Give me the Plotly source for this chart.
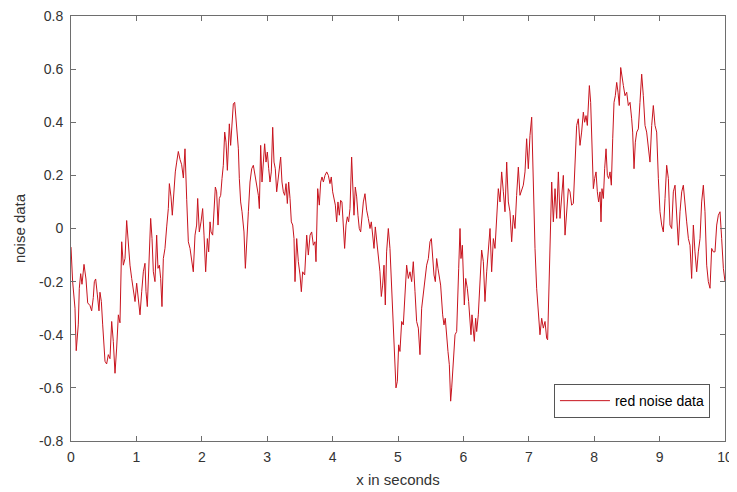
import plotly.graph_objects as go

x_seconds = [
    0.000, 0.025, 0.061, 0.080, 0.112, 0.127, 0.148, 0.168, 0.199, 0.229, 0.255, 0.290, 0.316, 0.341, 0.357,
    0.377, 0.403, 0.428, 0.443, 0.464, 0.484, 0.520, 0.545, 0.571, 0.596, 0.622, 0.647, 0.673, 0.698, 0.724,
    0.749, 0.775, 0.800, 0.826, 0.851, 0.877, 0.902, 0.928, 0.953, 0.979, 1.004, 1.030, 1.055, 1.081, 1.106,
    1.131, 1.147, 1.167, 1.198, 1.218, 1.239, 1.259, 1.284, 1.310, 1.330, 1.351, 1.371, 1.391, 1.412, 1.437,
    1.463, 1.488, 1.504, 1.529, 1.549, 1.575, 1.595, 1.616, 1.641, 1.667, 1.692, 1.718, 1.743, 1.769, 1.794,
    1.820, 1.845, 1.870, 1.896, 1.921, 1.937, 1.962, 1.988, 2.013, 2.034, 2.059, 2.085, 2.105, 2.126, 2.141,
    2.166, 2.187, 2.207, 2.227, 2.248, 2.268, 2.289, 2.309, 2.329, 2.350, 2.370, 2.391, 2.406, 2.421, 2.441,
    2.462, 2.482, 2.503, 2.523, 2.538, 2.559, 2.574, 2.594, 2.615, 2.625, 2.645, 2.666, 2.686, 2.712, 2.737,
    2.763, 2.788, 2.814, 2.839, 2.865, 2.880, 2.900, 2.921, 2.941, 2.961, 2.982, 3.002, 3.023, 3.043, 3.063,
    3.084, 3.104, 3.124, 3.145, 3.165, 3.186, 3.206, 3.226, 3.247, 3.267, 3.288, 3.308, 3.328, 3.349, 3.369,
    3.390, 3.410, 3.425, 3.451, 3.476, 3.502, 3.522, 3.542, 3.573, 3.604, 3.629, 3.655, 3.680, 3.706, 3.731,
    3.746, 3.772, 3.797, 3.818, 3.838, 3.859, 3.884, 3.910, 3.935,
    3.960, 3.980, 4.001, 4.021, 4.042, 4.062, 4.082, 4.103, 4.123, 4.143, 4.164, 4.184, 4.205, 4.225, 4.245,
    4.266, 4.291, 4.306, 4.327, 4.347, 4.368, 4.388, 4.408, 4.429, 4.449, 4.470, 4.495, 4.521, 4.546, 4.572,
    4.592, 4.612, 4.633, 4.653, 4.674, 4.699, 4.724, 4.745, 4.765, 4.786, 4.806, 4.826, 4.852, 4.877, 4.903,
    4.928, 4.954, 4.969, 4.990, 5.010, 5.030, 5.056, 5.081, 5.107, 5.132, 5.158, 5.183, 5.209, 5.234, 5.260,
    5.285, 5.311, 5.336, 5.362, 5.387, 5.413, 5.438, 5.464, 5.489, 5.510, 5.530, 5.550, 5.571, 5.591, 5.611,
    5.632, 5.652, 5.683, 5.703, 5.723, 5.744, 5.764, 5.785, 5.805,
    5.821, 5.846, 5.872, 5.897, 5.907, 5.928, 5.948, 5.963, 5.984, 5.999, 6.014, 6.035, 6.060, 6.080, 6.101,
    6.116, 6.131, 6.152, 6.167, 6.187, 6.203, 6.228, 6.254, 6.279, 6.305, 6.330, 6.356, 6.381, 6.407, 6.432,
    6.458, 6.483, 6.509, 6.534, 6.560, 6.585, 6.611, 6.636, 6.662, 6.687, 6.712, 6.738, 6.763, 6.789, 6.814,
    6.840, 6.865, 6.891, 6.916, 6.942, 6.967, 6.993, 7.018, 7.044, 7.069, 7.095, 7.120, 7.146, 7.171, 7.197,
    7.222, 7.248, 7.273, 7.288, 7.309, 7.324, 7.350, 7.375, 7.401, 7.426, 7.452, 7.477, 7.503, 7.528, 7.554,
    7.579, 7.605, 7.630, 7.655, 7.681, 7.706, 7.732, 7.757,
    7.783, 7.808, 7.834, 7.854, 7.875, 7.895, 7.915, 7.926, 7.946, 7.961, 7.977, 7.987, 8.007, 8.028, 8.048,
    8.068, 8.089, 8.104, 8.119, 8.140, 8.160, 8.181, 8.201, 8.221, 8.242, 8.262, 8.283, 8.303, 8.323, 8.344,
    8.364, 8.384, 8.405, 8.425, 8.446, 8.471, 8.497, 8.522, 8.548, 8.573, 8.588, 8.609, 8.629, 8.650, 8.675,
    8.700, 8.726, 8.751, 8.777, 8.802, 8.828, 8.853, 8.879, 8.904, 8.930, 8.955, 8.981, 9.006, 9.032, 9.057,
    9.083, 9.108, 9.134, 9.159, 9.185, 9.210, 9.236, 9.261, 9.287, 9.312, 9.338, 9.363, 9.389, 9.414, 9.440,
    9.465, 9.490, 9.516, 9.541, 9.567, 9.592, 9.618, 9.643, 9.669, 9.694, 9.720, 9.745, 9.771, 9.796, 9.822,
    9.847, 9.873, 9.898, 9.924, 9.949, 9.975, 10.000,
]

noise_values = [
    -0.07, -0.20, -0.30, -0.46, -0.36, -0.225, -0.17, -0.21, -0.135, -0.19, -0.28, -0.29, -0.31, -0.26, -0.20,
    -0.19, -0.25, -0.31, -0.24, -0.275, -0.36, -0.50, -0.51, -0.475, -0.49, -0.35, -0.425, -0.545, -0.45, -0.325,
    -0.355, -0.05, -0.138, -0.113, 0.03, -0.063, -0.138, -0.188, -0.238, -0.275, -0.206, -0.263, -0.325, -0.238, -0.163,
    -0.131, -0.238, -0.294, -0.10, 0.038, -0.038, -0.163, -0.20, -0.025, -0.15, -0.138, -0.188, -0.294, -0.113, -0.075,
    0.006, 0.075, 0.169, 0.119, 0.05, 0.169, 0.213, 0.25, 0.29, 0.26, 0.24, 0.19, 0.30, 0.11, -0.05,
    -0.075, -0.125, -0.163, -0.025, 0.013, 0.113, -0.013, 0.025, 0.075, -0.025, -0.163, -0.038, -0.088, 0.025, -0.013,
    -0.025, 0.075, 0.156, 0.138, 0.013, 0.113, 0.125, 0.188, 0.238, 0.363, 0.325, 0.219, 0.313, 0.394, 0.313,
    0.413, 0.469, 0.475, 0.413, 0.381, 0.30, 0.188, 0.10, 0.063, 0.025, -0.013, -0.15, -0.038, 0.063, 0.175,
    0.225, 0.238, 0.20, 0.175, 0.125, 0.075, 0.313, 0.175, 0.25, 0.319, 0.25, 0.288, 0.225, 0.175, 0.213,
    0.381, 0.25, 0.225, 0.138, 0.188, 0.238, 0.269, 0.175, 0.138, 0.125, 0.169, 0.094, 0.175, 0.113, 0.025,
    0.013, -0.038, -0.20, -0.038, -0.125, -0.175, -0.238, -0.163, -0.175, -0.025, -0.10, -0.025, -0.013, -0.063, -0.05,
    -0.125, 0.15, 0.088, 0.175, 0.194, 0.175, 0.20, 0.213, 0.20,
    0.169, 0.194, 0.138, 0.113, 0.088, 0.025, 0.10, 0.05, 0.106, 0.10, 0.013, -0.075, 0.013, 0.044, 0.025,
    0.075, 0.269, 0.163, 0.05, 0.156, 0.119, 0.05, 0.0, -0.013, 0.038, 0.10, 0.131, 0.069, 0.038, 0.0,
    0.025, -0.038, -0.075, 0.006, -0.05, -0.088, -0.163, -0.256, -0.213, -0.138, -0.288, -0.088, 0.0, -0.075, -0.238,
    -0.375, -0.55, -0.60, -0.575, -0.438, -0.463, -0.35, -0.363, -0.25, -0.138, -0.188, -0.163, -0.20, -0.125, -0.238,
    -0.35, -0.375, -0.475, -0.30, -0.238, -0.188, -0.138, -0.113, -0.05, -0.038, -0.113, -0.175, -0.20, -0.113, -0.15,
    -0.188, -0.213, -0.325, -0.363, -0.338, -0.413, -0.463, -0.513, -0.65,
    -0.60, -0.50, -0.40, -0.388, -0.275, -0.15, 0.0, -0.113, -0.063, -0.15, -0.288, -0.188, -0.225, -0.275, -0.35,
    -0.40, -0.325, -0.375, -0.425, -0.338, -0.388, -0.325, -0.20, -0.081, -0.125, -0.275, -0.163, -0.088, 0.0, -0.163,
    -0.038, -0.075, 0.063, 0.15, 0.10, 0.213, 0.138, 0.063, 0.25, 0.10, 0.063, -0.05, 0.05, 0.0, 0.125,
    0.231, 0.125, 0.15, 0.163, 0.213, 0.338, 0.225, 0.35, 0.419, 0.125, -0.075, -0.225, -0.325, -0.40, -0.338,
    -0.375, -0.35, -0.413, -0.419, -0.225, -0.025, 0.175, 0.025, 0.15, 0.038, 0.213, 0.038, 0.125, 0.20, -0.025,
    0.063, 0.15, 0.138, 0.088, 0.094, 0.225, 0.388, 0.413,
    0.313, 0.363, 0.438, 0.40, 0.425, 0.388, 0.463, 0.538, 0.475, 0.35, 0.225, 0.15, 0.188, 0.213, 0.138,
    0.10, 0.138, 0.025, 0.15, 0.113, 0.225, 0.30, 0.20, 0.188, 0.213, 0.163, 0.338, 0.475, 0.50, 0.55,
    0.513, 0.463, 0.606, 0.563, 0.538, 0.50, 0.513, 0.463, 0.475, 0.413, 0.363, 0.225, 0.325, 0.363, 0.375,
    0.475, 0.581, 0.50, 0.388, 0.363, 0.313, 0.25, 0.388, 0.463, 0.388, 0.363, 0.188, 0.063, 0.013, -0.013,
    0.113, 0.238, 0.188, 0.013, 0.0, 0.138, 0.163, 0.063, -0.063, 0.063, 0.138, 0.163, 0.075, 0.025, -0.038,
    -0.063, -0.188, 0.013, -0.088, -0.163, -0.088, -0.038, 0.10, 0.163, 0.063, -0.138, -0.20, -0.225, -0.075, -0.088,
    -0.088, 0.013, 0.05, 0.063, -0.038, -0.15, -0.20,
]

x_ticks = [0, 1, 2, 3, 4, 5, 6, 7, 8, 9, 10]
y_ticks = [-0.8, -0.6, -0.4, -0.2, 0, 0.2, 0.4, 0.6, 0.8]
y_tick_labels = ["-0.8", "-0.6", "-0.4", "-0.2", "0", "0.2", "0.4", "0.6", "0.8"]

font_family = "Arial, Liberation Sans, sans-serif"
axis_color = "#6e6e6e"
text_color = "#333333"

fig = go.Figure()
fig.add_trace(go.Scatter(
    x=x_seconds, y=noise_values, mode="lines", name="red noise data",
    line=dict(color="#c8141e", width=1),
))

common = dict(
    showline=True, linecolor=axis_color, linewidth=1, mirror="ticks",
    ticks="inside", ticklen=5, tickcolor=axis_color, tickwidth=1,
    showgrid=False, zeroline=False, automargin=False,
    ticklabeloverflow="allow",
    tickfont=dict(family=font_family, size=14, color=text_color),
)

# The page body adds an 8px offset; margins compensate so the plot area spans ~71..725 x 16..441
fig.update_layout(
    width=737, height=492,
    margin=dict(l=63, r=20, t=8, b=59, autoexpand=False),
    paper_bgcolor="white", plot_bgcolor="white",
    font=dict(family=font_family, color=text_color),
    showlegend=True,
    legend=dict(
        x=0.977, y=0.054, xanchor="right", yanchor="bottom",
        bgcolor="white", bordercolor="#555555", borderwidth=1,
        font=dict(family=font_family, size=14, color="#000000"),
        itemwidth=50, tracegroupgap=0,
    ),
    xaxis=dict(range=[0, 10], tickvals=x_ticks, ticklabelstandoff=3,
               title=dict(text="x in seconds", font=dict(family=font_family, size=15, color=text_color), standoff=10),
               **common),
    yaxis=dict(range=[-0.8, 0.8], tickvals=y_ticks, ticktext=y_tick_labels, ticklabelstandoff=4,
               title=dict(text="noise data", font=dict(family=font_family, size=15, color=text_color), standoff=9),
               **common),
)

fig.write_html("out.html")
